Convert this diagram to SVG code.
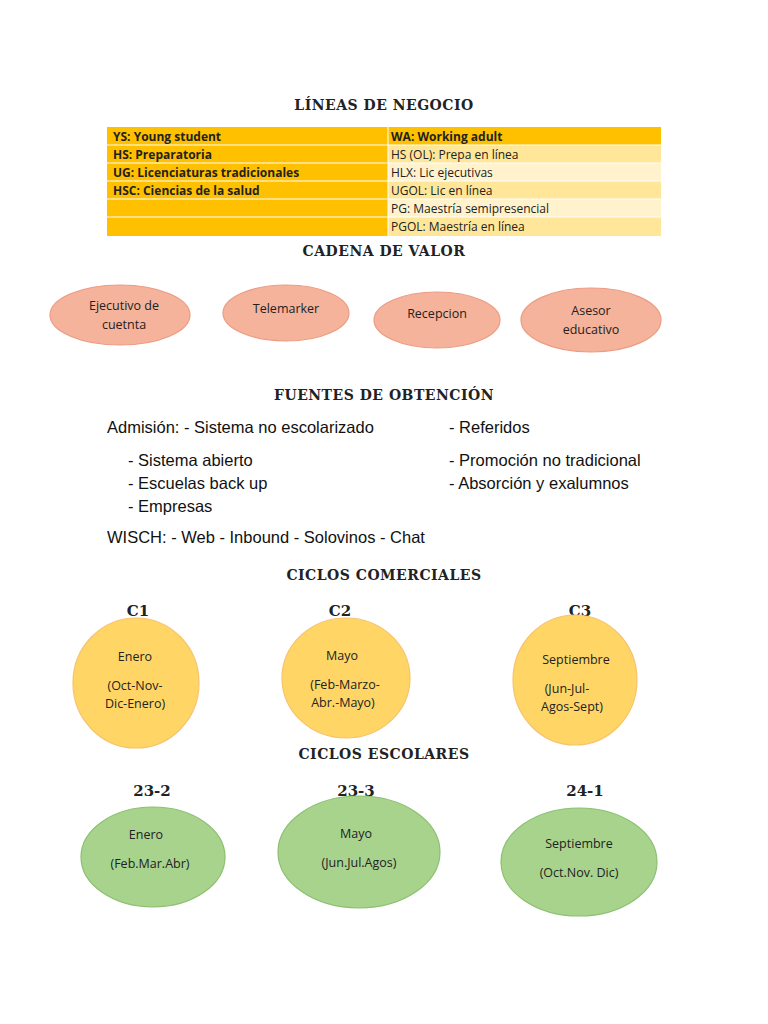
<svg xmlns="http://www.w3.org/2000/svg" width="768" height="1024" viewBox="0 0 768 1024">
<style>
.h{font-family:"DejaVu Serif",serif;font-size:14px;font-weight:bold;fill:#222;text-anchor:middle;letter-spacing:0.5px}
.c{font-family:"DejaVu Serif",serif;font-size:15px;font-weight:bold;fill:#222;text-anchor:middle}
.t{font-family:"Open Sans","Liberation Sans",sans-serif;font-size:12px;fill:#222}
.tb{font-family:"Open Sans","Liberation Sans",sans-serif;font-size:12px;font-weight:bold;fill:#222}
.n{font-family:"Open Sans","Liberation Sans",sans-serif;font-size:12.5px;fill:#222;text-anchor:middle}
.b{font-family:"Liberation Sans",Arial,sans-serif;font-size:16.5px;fill:#111}
.sal{fill:#F5B39B;stroke:#EC9C82;stroke-width:1.2}
.yel{fill:#FFD666;stroke:#F7C26C;stroke-width:1.2}
.grn{fill:#A8D38D;stroke:#8CBF70;stroke-width:1.2}
</style>
<rect width="768" height="1024" fill="#fff"/>
<text class="h" x="384" y="110">LÍNEAS DE NEGOCIO</text>
<g id="tabla">
<rect x="107" y="127" width="554" height="109" fill="#FFC000"/>
<rect x="388" y="145" width="273" height="18" fill="#FFE699"/>
<rect x="388" y="163" width="273" height="18" fill="#FFF2CC"/>
<rect x="388" y="181" width="273" height="18" fill="#FFE699"/>
<rect x="388" y="199" width="273" height="18" fill="#FFF2CC"/>
<rect x="388" y="217" width="273" height="19" fill="#FFE699"/>
<g stroke="#fff" stroke-width="1"><line x1="107" y1="145" x2="661" y2="145"/><line x1="107" y1="163" x2="661" y2="163"/><line x1="107" y1="181" x2="661" y2="181"/><line x1="107" y1="199" x2="661" y2="199"/><line x1="107" y1="217" x2="661" y2="217"/><line x1="388" y1="127" x2="388" y2="236"/></g>
<text class="tb" x="113" y="141">YS: Young student</text>
<text class="tb" x="113" y="159">HS: Preparatoria</text>
<text class="tb" x="113" y="177">UG: Licenciaturas tradicionales</text>
<text class="tb" x="113" y="195">HSC: Ciencias de la salud</text>
<text class="tb" x="391" y="141">WA: Working adult</text>
<text class="t" x="391" y="159">HS (OL): Prepa en línea</text>
<text class="t" x="391" y="177">HLX: Lic ejecutivas</text>
<text class="t" x="391" y="195">UGOL: Lic en línea</text>
<text class="t" x="391" y="213">PG: Maestría semipresencial</text>
<text class="t" x="391" y="231">PGOL: Maestría en línea</text>
</g>
<text class="h" x="384" y="256">CADENA DE VALOR</text>
<g id="ejecutivo"><ellipse class="sal" cx="120" cy="315" rx="70" ry="30"/><text class="n" x="124" y="310">Ejecutivo de</text><text class="n" x="124" y="329">cuetnta</text></g>
<g id="telemarker"><ellipse class="sal" cx="286" cy="313" rx="63" ry="28"/><text class="n" x="286" y="313">Telemarker</text></g>
<g id="recepcion"><ellipse class="sal" cx="437" cy="320" rx="63" ry="28"/><text class="n" x="437" y="318">Recepcion</text></g>
<g id="asesor"><ellipse class="sal" cx="591" cy="320" rx="70" ry="32"/><text class="n" x="591" y="315">Asesor</text><text class="n" x="591" y="334">educativo</text></g>
<text class="h" x="384" y="400">FUENTES DE OBTENCIÓN</text>
<text class="b" x="107" y="433">Admisión: - Sistema no escolarizado</text>
<text class="b" x="449" y="433">- Referidos</text>
<text class="b" x="128" y="466">-    Sistema abierto</text>
<text class="b" x="128" y="489">-    Escuelas back up</text>
<text class="b" x="128" y="512">-    Empresas</text>
<text class="b" x="449" y="466">- Promoción no tradicional</text>
<text class="b" x="449" y="489">- Absorción y exalumnos</text>
<text class="b" x="107" y="543">WISCH: - Web   - Inbound   - Solovinos   - Chat</text>
<text class="h" x="384" y="580">CICLOS COMERCIALES</text>
<text class="c" x="138" y="616">C1</text><text class="c" x="340" y="616">C2</text><text class="c" x="580" y="616">C3</text>
<g id="c1"><ellipse class="yel" cx="136" cy="683" rx="63" ry="65"/><text class="n" x="135" y="661">Enero</text><text class="n" x="135" y="690">(Oct-Nov-</text><text class="n" x="135" y="708">Dic-Enero)</text></g>
<g id="c2"><ellipse class="yel" cx="346" cy="678" rx="64" ry="60"/><text class="n" x="342" y="660">Mayo</text><text class="n" x="345" y="689">(Feb-Marzo-</text><text class="n" x="343" y="707">Abr.-Mayo)</text></g>
<g id="c3"><ellipse class="yel" cx="575" cy="680" rx="62" ry="65"/><text class="n" x="576" y="664">Septiembre</text><text class="n" x="567" y="693">(Jun-Jul-</text><text class="n" x="572" y="711">Agos-Sept)</text></g>
<text class="h" x="384" y="759">CICLOS ESCOLARES</text>
<text class="c" x="152" y="796">23-2</text><text class="c" x="356" y="796">23-3</text><text class="c" x="585" y="796">24-1</text>
<g id="e1"><ellipse class="grn" cx="153" cy="857" rx="72" ry="50"/><text class="n" x="146" y="839">Enero</text><text class="n" x="150" y="868">(Feb.Mar.Abr)</text></g>
<g id="e2"><ellipse class="grn" cx="359" cy="852" rx="81" ry="56"/><text class="n" x="356" y="838">Mayo</text><text class="n" x="359" y="867">(Jun.Jul.Agos)</text></g>
<g id="e3"><ellipse class="grn" cx="579" cy="862" rx="78" ry="54"/><text class="n" x="579" y="848">Septiembre</text><text class="n" x="579" y="877">(Oct.Nov. Dic)</text></g>
</svg>
